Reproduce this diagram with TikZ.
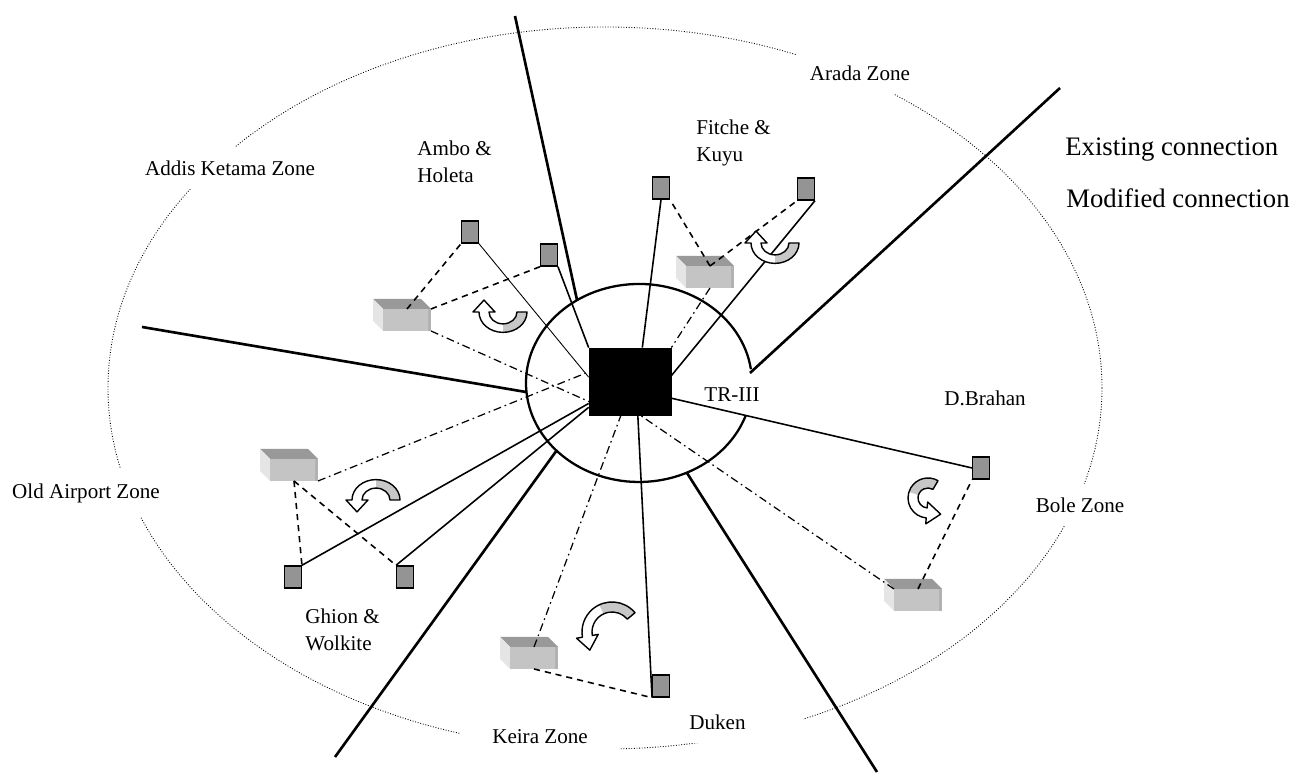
\documentclass[tikz,border=0pt]{standalone}
\usepackage{fontspec}
\setmainfont{Liberation Serif}
\usepackage{tikz}
\usetikzlibrary{calc}

\tikzset{
  zone/.style={densely dotted, line width=0.5pt},
  ring/.style={line width=1.3pt},
  spoke/.style={line width=1.5pt},
  link/.style={line width=0.9pt},
  thinlink/.style={line width=0.5pt},
  dlink/.style={line width=0.9pt, dash pattern=on 3.5pt off 2.8pt},
  mlink/.style={line width=0.7pt, dash pattern=on 4.5pt off 2.2pt on 0.9pt off 2.2pt},
  hub/.style={draw, fill=black, minimum width=1.64cm, minimum height=1.34cm, inner sep=0pt},
  site/.style={draw, line width=0.8pt, fill=black!42, minimum width=0.33cm, minimum height=0.44cm, inner sep=0pt},
  zonelabel/.style={fill=white, inner xsep=8pt, inner ysep=8pt, align=left, font=\fontsize{12}{15.5}\selectfont},
  legendtext/.style={anchor=west, inner sep=0pt, font=\fontsize{15.2}{18}\selectfont},
  pics/devbox/.style={code={
    \fill[black!40] (-24,11) -- (24,11) -- (14,21) -- (-34,21) -- cycle;
    \fill[black!10] (-24,11) -- (-34,21) -- (-34,-1) -- (-24,-11) -- cycle;
    \fill[black!23] (-24,-11) rectangle (24,11);
    \fill[black!30] (21,-11) rectangle (24,11);
    \coordinate (-top) at (0,11);
    \coordinate (-bot) at (0,-11);
    \coordinate (-ne) at (24,11);
    \coordinate (-nw) at (-24,11);
    \coordinate (-se) at (24,-11);
  }},
  pics/turn/.style n args={3}{code={
    \pgfmathsetmacro\turnro{#3+5}
    \pgfmathsetmacro\turnri{#3-5}
    \pgfmathsetmacro\turnho{#3+11}
    \pgfmathsetmacro\turnhi{#3-11}
    \pgfmathsetmacro\turnmid{(#1+#2)/2}
    \pgfmathsetmacro\turntip{#2+90*sign(#2-#1)}
    \def\turnshape{(#1:\turnro) arc[start angle=#1, end angle=#2, radius=\turnro]
      -- (#2:\turnho) -- ($(#2:#3)+(\turntip:14)$) -- (#2:\turnhi) -- (#2:\turnri)
      arc[start angle=#2, end angle=#1, radius=\turnri] -- cycle}
    \fill[white] \turnshape;
    \fill[black!22] (#1:\turnro) arc[start angle=#1, end angle=\turnmid, radius=\turnro]
      -- (\turnmid:\turnri) arc[start angle=\turnmid, end angle=#1, radius=\turnri] -- cycle;
    \draw[line width=0.8pt, line join=round] \turnshape;
  }}
}

\begin{document}
\begin{tikzpicture}[x=0.02cm, y=0.02cm]
\useasboundingbox (0,0) rectangle (1292,773);

\draw[zone] (605,385) ellipse [x radius=497, y radius=361];
\draw[ring] (750.9,403.8) arc[start angle=8, end angle=341, x radius=113, y radius=99];

\node[zonelabel] (addis) at (230,605) {Addis Ketama Zone};
\node[zonelabel, anchor=west] (ambo) at (403,611) {Ambo \&\\Holeta};
\node[zonelabel, anchor=west] (fitche) at (682,630) {Fitche \&\\Kuyu};
\node[zonelabel] (arada) at (860,700) {Arada Zone};
\node[zonelabel] (trlbl) at (732,378) {TR-III};
\node[zonelabel] (brahan) at (985,375) {D.Brahan};
\node[zonelabel] (bole) at (1080,268) {Bole Zone};
\node[zonelabel] (oldair) at (86,280) {Old Airport Zone};
\node[zonelabel, anchor=west] (ghion) at (291,143) {Ghion \&\\Wolkite};
\node[zonelabel, inner xsep=18pt] (keira) at (540,36) {Keira Zone};
\node[zonelabel, anchor=west, text width=2cm] (duken) at (675,51) {Duken};
\node[legendtext] (exist) at (1065,623) {Existing connection};
\node[legendtext] (modif) at (1066,575) {Modified connection};

\coordinate (s1a) at (515,757);
\coordinate (s1b) at (577,473);
\coordinate (s2a) at (142,446);
\coordinate (s2b) at (526,381);
\coordinate (s3a) at (1060,685);
\coordinate (s3b) at (750,400);
\coordinate (s4a) at (335,16);
\coordinate (s4b) at (557,323);
\coordinate (s5a) at (877,1);
\coordinate (s5b) at (687,300);
\draw[spoke] (s1a) -- (s1b);
\draw[spoke] (s2a) -- (s2b);
\draw[spoke] (s3a) -- (s3b);
\draw[spoke] (s4a) -- (s4b);
\draw[spoke] (s5a) -- (s5b);

\node[hub] (hub) at (630,391.5) {};
\node[site] (a1) at (470,541) {};
\node[site] (a2) at (549,518) {};
\node[site] (f1) at (661,585) {};
\node[site] (f2) at (806,584) {};
\node[site] (db) at (981,305) {};
\node[site] (g1) at (293,196) {};
\node[site] (g2) at (405,196) {};
\node[site] (dk) at (661,87) {};

\pic (ak) at (407,453) {devbox};
\pic (fk) at (710,496) {devbox};
\pic (oa) at (294,303) {devbox};
\pic (ke) at (534,115) {devbox};
\pic (bo) at (918,173) {devbox};

\draw[thinlink] (a1.south east) -- (hub.174);
\draw[link] (a2.south east) -- (hub.north west);
\draw[link] (f1.south) -- (hub.70);
\draw[link] (f2.south east) -- (hub.8);
\draw[link] (db.west) -- (hub.338);
\draw[link] (dk.south west) -- (hub.283);
\draw[link] (g1.north east) -- (hub.208);
\draw[link] (g2.north west) -- (hub.212);

\draw[dlink] (ak-top) -- (a1.south west);
\draw[dlink] (ak-ne) -- (a2.south west);
\draw[dlink] (fk-top) -- (f1.south east);
\draw[dlink] (fk-top) -- (f2.south west);
\draw[dlink] (oa-bot) -- (g1.north east);
\draw[dlink] (oa-bot) -- (g2.north west);
\draw[dlink] (ke-bot) -- (dk.south west);
\draw[dlink] (bo-top) -- (db.south west);

\draw[mlink] (ak-se) -- (hub.253);
\draw[mlink] (fk-bot) -- (hub.north east);
\draw[mlink] (oa-se) -- (hub.167);
\draw[mlink] (ke-top) -- (hub.255);
\draw[mlink] (bo-nw) -- (hub.287);

\pic[yscale=0.85] at (503,461) {turn={0}{-180}{19}};
\pic[yscale=0.85] at (775,530) {turn={0}{-180}{19}};
\pic[yscale=0.85] at (376,273) {turn={0}{180}{19}};
\pic at (612,141) {turn={40}{190}{25}};
\pic at (928,275) {turn={60}{265}{15}};
\end{tikzpicture}
\end{document}
